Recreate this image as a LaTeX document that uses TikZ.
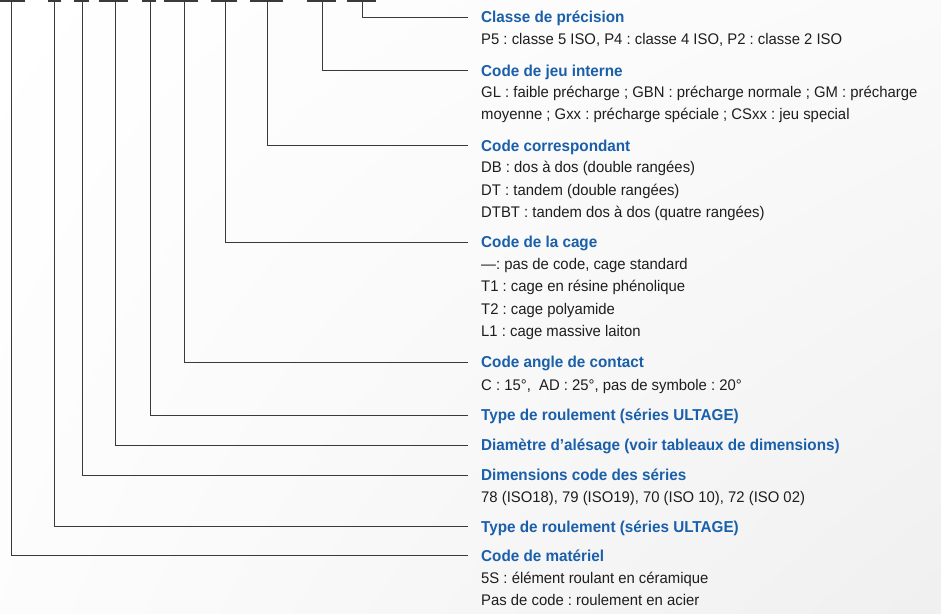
\documentclass[tikz,border=0pt]{standalone}
\usepackage{fontspec}
\setmainfont{Liberation Sans}
\newfontfamily\narrowfont{Liberation Sans}[FakeStretch=0.965]
\usetikzlibrary{shadings}
\definecolor{ttl}{HTML}{1A5FAA}
\definecolor{txt}{HTML}{1E1E1E}
\definecolor{ln}{HTML}{3A3A3A}
\frenchspacing
\begin{document}
\begin{tikzpicture}[x=1pt,y=-1pt,
  ttlstyle/.style={anchor=base west,inner sep=0pt,text=ttl,font=\narrowfont\fontsize{15.8}{18}\selectfont\bfseries},
  bodystyle/.style={anchor=base west,inner sep=0pt,text=txt,font=\narrowfont\fontsize{15.4}{18}\selectfont},
  leader/.style={draw=ln,line width=1pt},
  barstyle/.style={draw=ln,line width=1.6pt}]
\useasboundingbox (0,0) rectangle (941,613);
\shade[upper left=white,upper right=black!2,lower left=black!1,lower right=black!6] (0,0) rectangle (941,613);

% top bars
\foreach \a/\b in {0/25,48/61,74/89,99/128,142/156,164/198,211/237,250/283,307/336,347/376}
  \draw[barstyle] (\a,0.8) -- (\b,0.8);

% titles
\node[ttlstyle] (t1)  at (481,22.6)  {Classe de précision};
\node[ttlstyle] (t2)  at (481,76.0)  {Code de jeu interne};
\node[ttlstyle] (t3)  at (481,151.0) {Code correspondant};
\node[ttlstyle] (t4)  at (481,247.3) {Code de la cage};
\node[ttlstyle] (t5)  at (481,367.3) {Code angle de contact};
\node[ttlstyle] (t6)  at (481,420.3) {Type de roulement (séries ULTAGE)};
\node[ttlstyle] (t7)  at (481,450.0) {Diamètre d’alésage (voir tableaux de dimensions)};
\node[ttlstyle] (t8)  at (481,480.3) {Dimensions code des séries};
\node[ttlstyle] (t9)  at (481,532.0) {Type de roulement (séries ULTAGE)};
\node[ttlstyle] (t10) at (481,561.0) {Code de matériel};

% body lines
\node[bodystyle] (b1a) at (481,44.6)  {P5 : classe 5 ISO, P4 : classe 4 ISO, P2 : classe 2 ISO};
\node[bodystyle] (b2a) at (481,97.5)  {GL : faible précharge ; GBN : précharge normale ; GM : précharge};
\node[bodystyle] (b2b) at (481,119.5) {moyenne ; Gxx : précharge spéciale ; CSxx : jeu special};
\node[bodystyle] (b3a) at (481,172.8) {DB : dos à dos (double rangées)};
\node[bodystyle] (b3b) at (481,195.0) {DT : tandem (double rangées)};
\node[bodystyle] (b3c) at (481,217.4) {DTBT : tandem dos à dos (quatre rangées)};
\node[bodystyle] (b4a) at (481,269.4) {—: pas de code, cage standard};
\node[bodystyle] (b4b) at (481,291.6) {T1 : cage en résine phénolique};
\node[bodystyle] (b4c) at (481,314.2) {T2 : cage polyamide};
\node[bodystyle] (b4d) at (481,336.4) {L1 : cage massive laiton};
\node[bodystyle] (b5a) at (481,390.0) {C : 15°,\ \ AD : 25°, pas de symbole : 20°};
\node[bodystyle] (b8a) at (481,502.0) {78 (ISO18), 79 (ISO19), 70 (ISO 10), 72 (ISO 02)};
\node[bodystyle] (b10a) at (481,583.3) {5S : élément roulant en céramique};
\node[bodystyle] (b10b) at (481,605.4) {Pas de code : roulement en acier};

% leader coordinates
\foreach \i/\x/\y in {1/362/17.3,2/322/70.7,3/267/145.7,4/225/242,5/184/362,6/150/415,7/115/445.5,8/82/475,9/54/526.7,10/11/555.7}{
  \coordinate (s\i) at (\x,1);
  \coordinate (e\i) at (468,\y);
}
\foreach \i in {1,...,10}
  \draw[leader] (s\i) |- (e\i);
\end{tikzpicture}
\end{document}
